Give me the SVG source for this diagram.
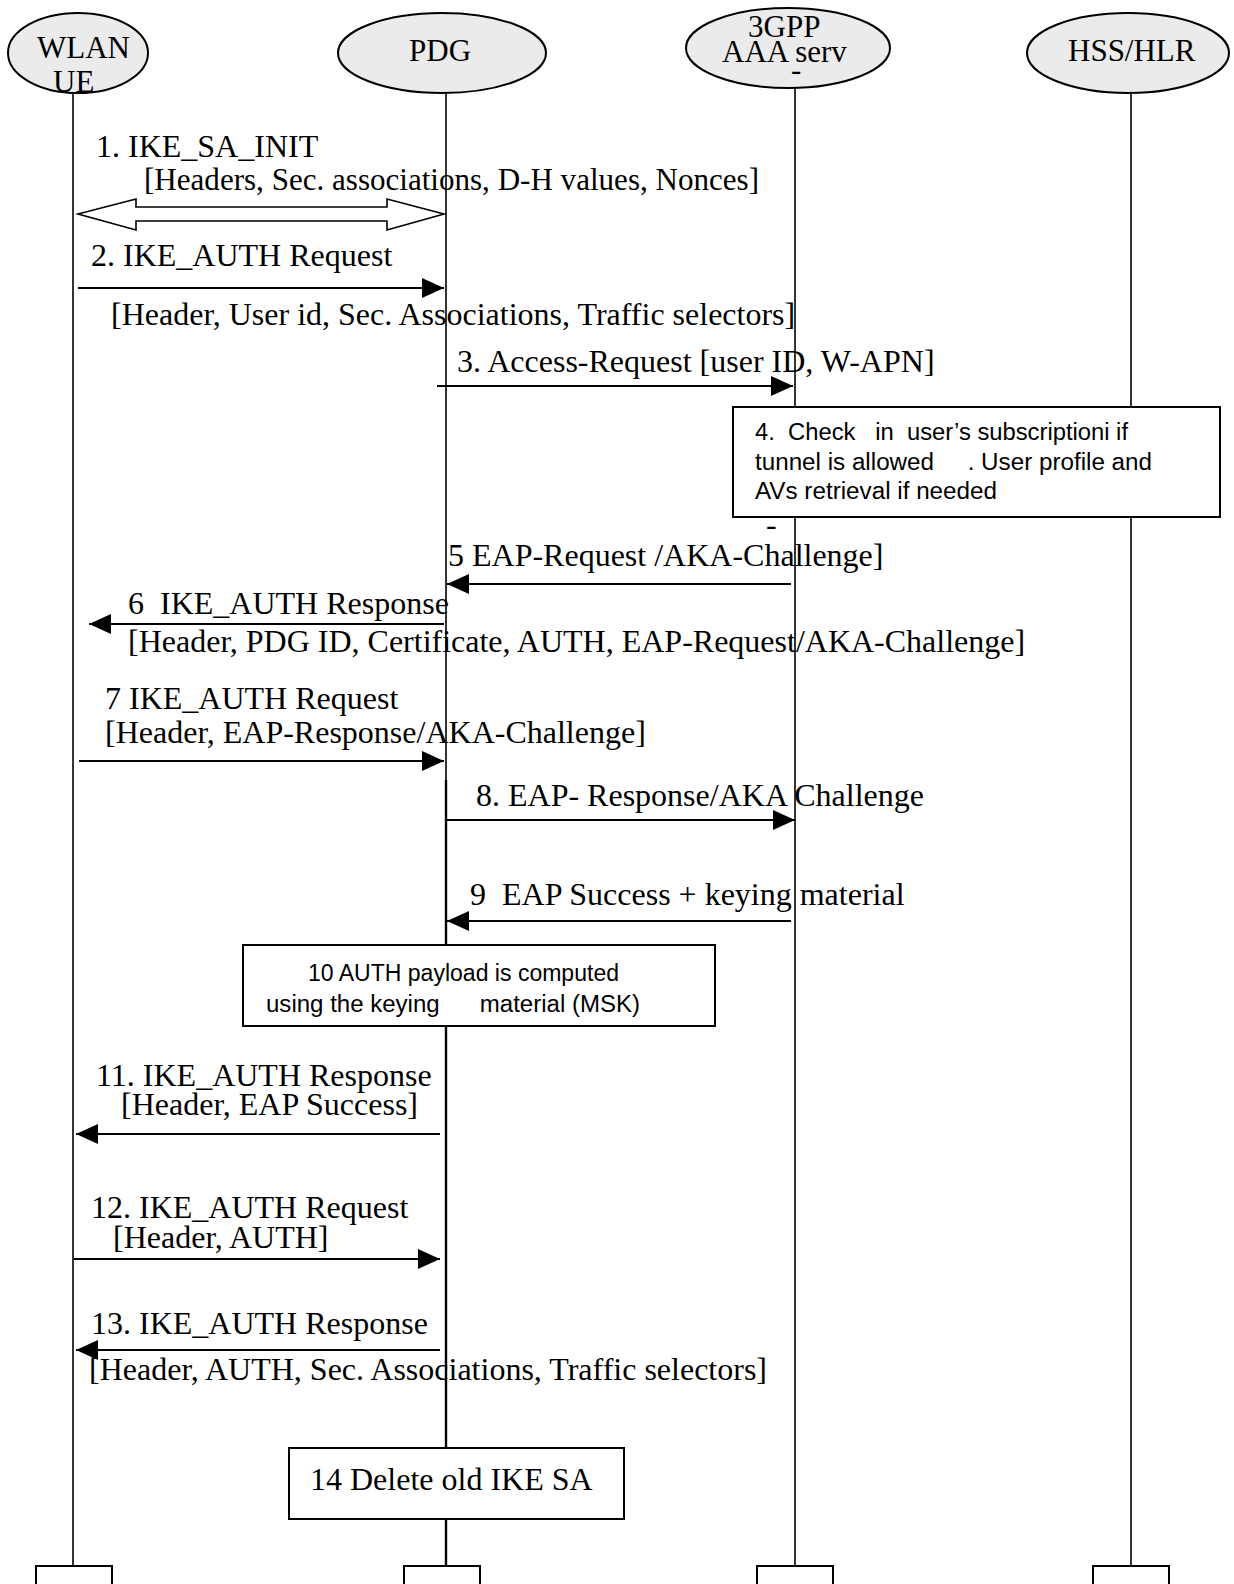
<svg xmlns="http://www.w3.org/2000/svg" width="1234" height="1584" viewBox="0 0 1234 1584">
<style>
.t{font-family:"Liberation Serif","Times New Roman",serif;font-size:32px;fill:#000}
.n{font-family:"Liberation Serif","Times New Roman",serif;font-size:31px;fill:#000}
.a{font-family:"Liberation Sans",Arial,sans-serif;font-size:23.5px;fill:#000}
.ell{fill:#EBEBEB;stroke:#000;stroke-width:2}
.life{stroke:#000;stroke-width:1.6;fill:none}
.box{fill:#fff;stroke:#000;stroke-width:2}
.msg{stroke:#000;stroke-width:2;fill:none}
</style>
<defs>
<marker id="ah" markerUnits="userSpaceOnUse" markerWidth="24" markerHeight="20" refX="22" refY="10" orient="auto">
<path d="M0,0 L22,10 L0,20 Z" fill="#000"/>
</marker>
</defs>
<rect width="1234" height="1584" fill="#fff"/>
<g id="lifelines">
<line class="life" x1="73" y1="93" x2="73" y2="1566"/>
<line class="life" x1="446" y1="94" x2="446" y2="780"/>
<line class="life" x1="446" y1="780" x2="446" y2="1566" style="stroke-width:2.4"/>
<line class="life" x1="795" y1="88" x2="795" y2="1566"/>
<line class="life" x1="1131" y1="94" x2="1131" y2="1566"/>
</g>
<g id="node-wlan-ue">
<ellipse class="ell" cx="78" cy="53" rx="70" ry="40"/>
<text class="n" x="37" y="58">WLAN</text>
<text class="n" x="53" y="92">UE</text>
</g>
<g id="node-pdg">
<ellipse class="ell" cx="442" cy="53" rx="104" ry="40"/>
<text class="n" x="409" y="61">PDG</text>
</g>
<g id="node-aaa">
<ellipse class="ell" cx="788" cy="48" rx="102" ry="40"/>
<text class="n" x="748" y="37">3GPP</text>
<text class="n" x="722" y="62">AAA serv</text>
<text class="n" x="791" y="80">-</text>
</g>
<g id="node-hss">
<ellipse class="ell" cx="1128" cy="53" rx="101" ry="40"/>
<text class="n" x="1068" y="61">HSS/HLR</text>
</g>
<g id="connectors">
<polygon points="78,214 136,199 136,207 387,207 387,199 444,214 387,230 387,221 136,221 136,230" fill="#fff" stroke="#000" stroke-width="1.6"/>
<line class="msg" x1="78" y1="288" x2="444" y2="288" marker-end="url(#ah)"/>
<line class="msg" x1="437" y1="386" x2="793" y2="386" marker-end="url(#ah)"/>
<line class="msg" x1="791" y1="584" x2="447" y2="584" marker-end="url(#ah)"/>
<line class="msg" x1="444" y1="624" x2="89" y2="624" marker-end="url(#ah)"/>
<line class="msg" x1="79" y1="761" x2="444" y2="761" marker-end="url(#ah)"/>
<line class="msg" x1="447" y1="820" x2="795" y2="820" marker-end="url(#ah)"/>
<line class="msg" x1="791" y1="921" x2="447" y2="921" marker-end="url(#ah)"/>
<line class="msg" x1="440" y1="1134" x2="76" y2="1134" marker-end="url(#ah)"/>
<line class="msg" x1="74" y1="1259" x2="440" y2="1259" marker-end="url(#ah)"/>
<line class="msg" x1="440" y1="1350" x2="76" y2="1350" marker-end="url(#ah)"/>
</g>
<g id="labels">
<text class="t" x="96" y="157">1. IKE_SA_INIT</text>
<text class="t" x="144" y="190" textLength="615" lengthAdjust="spacingAndGlyphs">[Headers, Sec. associations, D-H values, Nonces]</text>
<text class="t" x="91" y="266">2. IKE_AUTH Request</text>
<text class="t" x="111" y="325">[Header, User id, Sec. Associations, Traffic selectors]</text>
<text class="t" x="457" y="372">3. Access-Request [user ID, W-APN]</text>
<text class="t" x="766" y="535">-</text>
<text class="t" x="448" y="566">5 EAP-Request /AKA-Challenge]</text>
<text class="t" x="128" y="614" xml:space="preserve">6  IKE_AUTH Response</text>
<text class="t" x="128" y="652">[Header, PDG ID, Certificate, AUTH, EAP-Request/AKA-Challenge]</text>
<text class="t" x="105" y="709">7 IKE_AUTH Request</text>
<text class="t" x="105" y="743">[Header, EAP-Response/AKA-Challenge]</text>
<text class="t" x="476" y="806">8. EAP- Response/AKA Challenge</text>
<text class="t" x="470" y="905" xml:space="preserve">9  EAP Success + keying material</text>
<text class="t" x="96" y="1086">11. IKE_AUTH Response</text>
<text class="t" x="121" y="1115">[Header, EAP Success]</text>
<text class="t" x="91" y="1218">12. IKE_AUTH Request</text>
<text class="t" x="113" y="1248">[Header, AUTH]</text>
<text class="t" x="91" y="1334">13. IKE_AUTH Response</text>
<text class="t" x="89" y="1380">[Header, AUTH, Sec. Associations, Traffic selectors]</text>
</g>
<g id="node-check-subscription">
<rect class="box" x="733" y="407" width="487" height="110"/>
<text class="a" x="755" y="440" xml:space="preserve" textLength="373" lengthAdjust="spacingAndGlyphs">4.  Check   in  user’s subscriptioni if</text>
<text class="a" x="755" y="470" xml:space="preserve" textLength="397" lengthAdjust="spacingAndGlyphs">tunnel is allowed     . User profile and</text>
<text class="a" x="755" y="499" textLength="242" lengthAdjust="spacingAndGlyphs">AVs retrieval if needed</text>
</g>
<g id="node-auth-payload">
<rect class="box" x="243" y="945" width="472" height="81"/>
<text class="a" x="308" y="981" textLength="311" lengthAdjust="spacingAndGlyphs">10 AUTH payload is computed</text>
<text class="a" x="266" y="1012" xml:space="preserve" textLength="374" lengthAdjust="spacingAndGlyphs">using the keying      material (MSK)</text>
</g>
<g id="node-delete-sa">
<rect class="box" x="289" y="1448" width="335" height="71"/>
<text class="t" x="310" y="1490">14 Delete old IKE SA</text>
</g>
<g id="node-bottom-boxes">
<rect class="box" x="36" y="1566" width="76" height="30"/>
<rect class="box" x="404" y="1566" width="76" height="30"/>
<rect class="box" x="757" y="1566" width="76" height="30"/>
<rect class="box" x="1093" y="1566" width="76" height="30"/>
</g>
</svg>
